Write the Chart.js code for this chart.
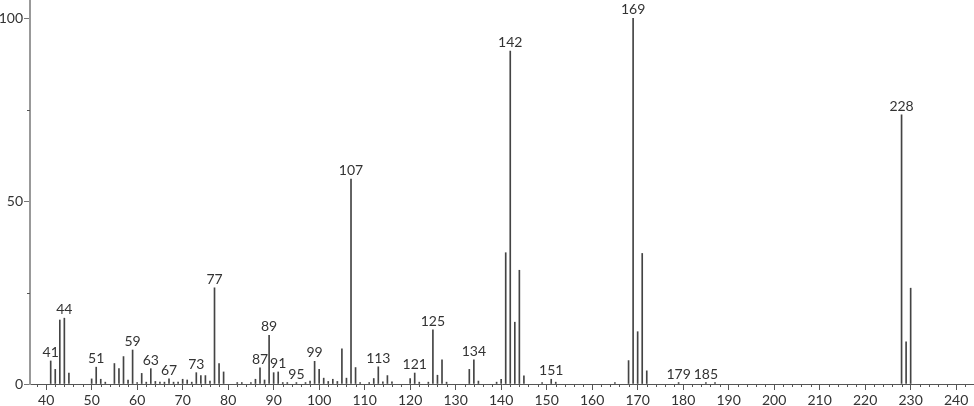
<!DOCTYPE html>
<html><head><meta charset="utf-8">
<script src="https://cdn.jsdelivr.net/npm/chart.js@4/dist/chart.umd.min.js"></script>
<style>html,body{margin:0;padding:0;background:#fff}#wrap{width:974px;height:406px;position:relative}</style>
</head><body><div id="wrap"><canvas id="c"></canvas></div>
<script>
const masses = [41,42,43,44,45,50,51,52,53,55,56,57,58,59,60,61,62,63,64,65,66,67,68,69,70,71,72,73,74,75,76,77,78,79,
  82,83,85,86,87,88,89,90,91,92,93,95,97,98,99,100,101,102,103,104,105,106,107,108,109,111,112,113,114,115,116,
  120,121,122,124,125,126,127,128,133,134,135,139,140,141,142,143,144,145,149,151,152,165,168,169,170,171,172,
  179,185,187,228,229,230];
const intensities = [6.3,4.0,17.5,18.0,3.0,1.4,4.6,1.3,0.5,5.6,4.2,7.5,1.1,9.3,0.4,2.9,0.5,4.2,0.7,0.5,0.5,1.4,0.5,0.5,1.3,1.1,0.5,3.1,2.3,2.3,0.8,26.3,5.6,3.3,
  0.4,0.4,0.4,1.3,4.4,1.1,13.3,3.1,3.3,0.4,0.4,0.4,0.4,0.8,6.2,4.0,1.6,0.7,1.3,0.7,9.6,1.6,56.0,4.5,0.4,0.4,1.5,4.7,0.6,2.3,0.6,
  1.5,3.0,0.5,0.5,14.8,2.4,6.6,0.5,4.0,6.6,0.8,0.5,1.3,35.9,91.0,16.9,31.1,2.2,0.4,1.3,0.5,0.4,6.4,100,14.3,35.7,3.6,
  0.4,0.4,0.4,73.6,11.5,26.2];
const labeledPeaks = [41,44,51,59,63,67,73,77,87,89,91,95,99,107,113,121,125,134,142,151,169,179,185,228];
const yTickLabels = [0,50,100];

const FONT = 'Lato, "Open Sans", sans-serif';

const annot = {
  id: 'annot',
  afterDatasetsDraw(chart) {
    const {ctx, scales: {x, y}} = chart;
    ctx.save();
    ctx.strokeStyle = '#555';
    ctx.lineWidth = 1;
    for (let v = Math.ceil(x.min / 2) * 2; v <= x.max; v += 2) {
      if (v % 10 === 0) continue;
      const px = Math.round(x.getPixelForValue(v)) + 0.5;
      ctx.beginPath(); ctx.moveTo(px, y.bottom); ctx.lineTo(px, y.bottom + 3); ctx.stroke();
    }
    for (const v of [25, 75]) {
      const py = Math.round(y.getPixelForValue(v)) + 0.5;
      ctx.beginPath(); ctx.moveTo(x.left, py); ctx.lineTo(x.left - 3, py); ctx.stroke();
    }
    ctx.font = '14px ' + FONT;
    ctx.fillStyle = '#333';
    ctx.textAlign = 'center';
    ctx.textBaseline = 'alphabetic';
    labeledPeaks.forEach(m => {
      const i = masses.indexOf(m);
      const px = x.getPixelForValue(m);
      const py = y.getPixelForValue(intensities[i]);
      ctx.fillText(String(m), px, py - 4);
    });
    ctx.restore();
  }
};

new Chart(document.getElementById('c'), {
  type: 'bar',
  data: {
    datasets: [{
      data: masses.map((m, i) => ({x: m, y: intensities[i]})),
      backgroundColor: '#444',
      borderWidth: 0,
      barThickness: 1
    }]
  },
  options: {
    responsive: true,
    maintainAspectRatio: false,
    animation: false,
    layout: {padding: 0},
    plugins: {legend: {display: false}, tooltip: {enabled: false}},
    scales: {
      x: {
        type: 'linear',
        min: 36.45, max: 243.92,
        offset: false,
        grid: {drawOnChartArea: false, drawTicks: true, tickLength: 6, tickColor: '#555', offset: false},
        border: {display: true, color: '#555', width: 1},
        ticks: {stepSize: 10, includeBounds: false, padding: 2, color: '#333', font: {family: FONT, size: 14}, maxRotation: 0, autoSkip: false},
        afterFit(s) { s.height = 22; s.paddingLeft = 0; s.paddingRight = 0; }
      },
      y: {
        min: 0, max: 105,
        grid: {drawOnChartArea: false, drawTicks: true, tickLength: 6, tickColor: '#777'},
        border: {display: true, color: '#999', width: 2},
        ticks: {stepSize: 50, includeBounds: false, padding: 1, color: '#333', font: {family: FONT, size: 14},
          callback: v => yTickLabels.includes(v) ? String(v) : ''},
        afterFit(s) { s.width = 30; s.paddingTop = 0; s.paddingBottom = 0; }
      }
    }
  },
  plugins: [annot]
});
</script>
</body></html>
